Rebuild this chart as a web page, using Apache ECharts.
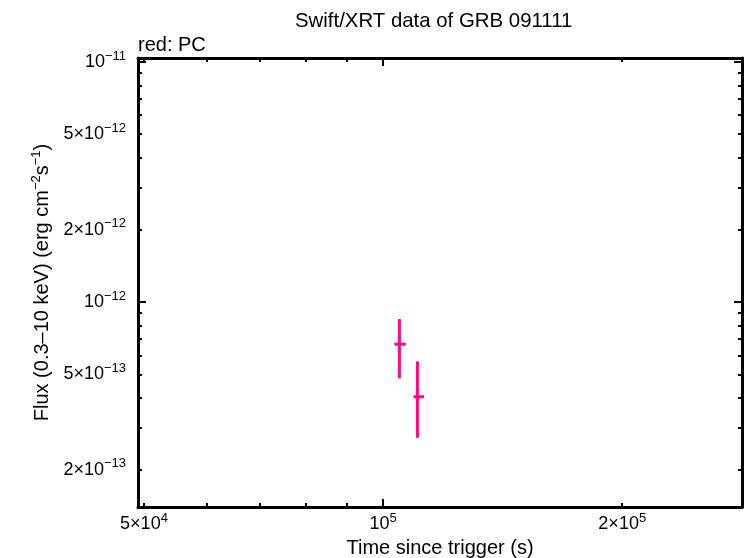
<!DOCTYPE html>
<html><head><meta charset="utf-8">
<script src="https://cdn.jsdelivr.net/npm/echarts@6/dist/echarts.min.js"></script>
<style>html,body{margin:0;padding:0;background:#fff}#c{width:746px;height:558px}</style>
</head><body><div id="c"></div>
<script>
// ---- data ----
const times      = [1.0484e5, 1.1046e5];
const timeLow    = [1.0333e5, 1.0920e5];
const timeHigh   = [1.0680e5, 1.1260e5];
const flux       = [6.67e-13, 4.03e-13];
const fluxLow    = [4.81e-13, 2.72e-13];
const fluxHigh   = [8.49e-13, 5.66e-13];

const xMin = 4.914e4, xMax = 2.83e5;
const yMin = 1.40e-13, yMax = 1.039e-11;

const xLabelValues = [5e4, 1e5, 2e5];
const xMajorTicks  = [1e5];
const xMinorTicks  = [5e4, 6e4, 7e4, 8e4, 9e4, 2e5];
const yLabelValues = [2e-13, 5e-13, 1e-12, 2e-12, 5e-12, 1e-11];
const yMajorTicks  = [1e-12, 1e-11];
const yMinorTicks  = [2e-13, 3e-13, 4e-13, 5e-13, 6e-13, 7e-13, 8e-13, 9e-13,
                      2e-12, 3e-12, 4e-12, 5e-12, 6e-12, 7e-12, 8e-12, 9e-12];

const FONT = '"Liberation Sans", Arial, sans-serif';
const PINK = '#ff0a84';

function sciLabel(v) {
  const e = Math.floor(Math.log10(v) + 1e-9);
  const m = Math.round(v / Math.pow(10, e));
  const es = (e < 0 ? '\u2212' : '') + Math.abs(e);
  return (m === 1 ? '{b|10}' : '{b|' + m + '\u00d710}') + '{s|' + es + '}';
}
const labelRich = {
  b: { fontSize: 18, fontFamily: FONT, color: '#000' },
  s: { fontSize: 13, fontFamily: FONT, color: '#000', padding: [0, 0, 12, 0] }
};

function xAx(pos, ticks, len, withLabels, withLine) {
  return {
    type: 'log', position: pos, min: xMin, max: xMax,
    axisLine: { show: withLine, lineStyle: { color: '#000', width: 3 } },
    axisTick: { show: true, inside: true, length: len, customValues: ticks,
                lineStyle: { color: '#000', width: 2 } },
    axisLabel: { show: withLabels, customValues: xLabelValues, formatter: sciLabel,
                 rich: labelRich, margin: 5 },
    splitLine: { show: false }, minorTick: { show: false },
    name: (withLabels ? 'Time since trigger (s)' : ''),
    nameLocation: 'middle', nameGap: 30,
    nameTextStyle: { fontSize: 20, fontFamily: FONT, color: '#000' }
  };
}
function yAx(pos, ticks, len, withLabels, withLine) {
  return {
    type: 'log', position: pos, min: yMin, max: yMax,
    axisLine: { show: withLine, lineStyle: { color: '#000', width: 3 } },
    axisTick: { show: true, inside: true, length: len, customValues: ticks,
                lineStyle: { color: '#000', width: 2 } },
    axisLabel: { show: withLabels, customValues: yLabelValues, formatter: sciLabel,
                 rich: labelRich, margin: 12 },
    splitLine: { show: false }, minorTick: { show: false },
    name: (withLabels ? '{n|Flux (0.3\u201310 keV) (erg cm}{s|\u22122}{n|s}{s|\u22121}{n|)}' : ''),
    nameLocation: 'middle', nameGap: 77, nameRotate: 90,
    nameTextStyle: {
      fontSize: 20, fontFamily: FONT, color: '#000',
      rich: {
        n: { fontSize: 20, fontFamily: FONT, color: '#000' },
        s: { fontSize: 13, fontFamily: FONT, color: '#000', padding: [0, 0, 12, 0] }
      }
    }
  };
}

const points = times.map((t, i) => [t, timeLow[i], timeHigh[i], flux[i], fluxLow[i], fluxHigh[i]]);

const chart = echarts.init(document.getElementById('c'), null, { renderer: 'canvas' });
chart.setOption({
  backgroundColor: '#fff',
  animation: false,
  title: [
    { text: 'Swift/XRT data of GRB 091111', left: 295, top: 11, padding: 0,
      textStyle: { fontSize: 20.4, fontWeight: 'normal', fontFamily: FONT, color: '#000' } },
    { text: 'red: PC', left: 138, top: 35, padding: 0,
      textStyle: { fontSize: 20, fontWeight: 'normal', fontFamily: FONT, color: '#000' } }
  ],
  grid: { left: 138, right: 4, top: 58, bottom: 51, containLabel: false, outerBoundsMode: 'none' },
  xAxis: [
    xAx('bottom', xMinorTicks, 4, true, true),
    xAx('bottom', xMajorTicks, 8, false, false),
    xAx('top', xMinorTicks, 4, false, true),
    xAx('top', xMajorTicks, 8, false, false)
  ],
  yAxis: [
    yAx('left', yMinorTicks, 4, true, true),
    yAx('left', yMajorTicks, 8, false, false),
    yAx('right', yMinorTicks, 4, false, true),
    yAx('right', yMajorTicks, 8, false, false)
  ],
  series: [{
    type: 'custom',
    xAxisIndex: 0, yAxisIndex: 0,
    encode: { x: [0, 1, 2], y: [3, 4, 5] },
    data: points,
    renderItem: function (params, api) {
      const c  = api.coord([api.value(0), api.value(3)]);
      const xl = api.coord([api.value(1), api.value(3)]);
      const xh = api.coord([api.value(2), api.value(3)]);
      const yl = api.coord([api.value(0), api.value(4)]);
      const yh = api.coord([api.value(0), api.value(5)]);
      const st = { stroke: PINK, lineWidth: 3 };
      return {
        type: 'group',
        children: [
          { type: 'line', shape: { x1: xl[0], y1: c[1], x2: xh[0], y2: c[1] }, style: st },
          { type: 'line', shape: { x1: c[0], y1: yl[1], x2: c[0], y2: yh[1] }, style: st }
        ]
      };
    }
  }]
});
</script>
</body></html>
